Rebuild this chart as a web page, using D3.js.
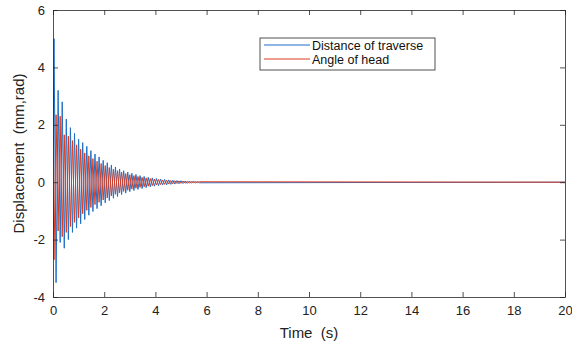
<!DOCTYPE html>
<html>
<head>
<meta charset="utf-8">
<script src="https://cdn.jsdelivr.net/npm/d3@7"></script>
<style>
  body { margin: 0; background: #fff; }
  svg { font-family: "Liberation Sans", Arial, sans-serif; }
</style>
</head>
<body>
<svg id="chart" width="572" height="352"></svg>
<script>
// extrema times (s)
const peakTimes = [0.04, 0.20, 0.36, 0.52, 0.68, 0.84, 1.00, 1.16, 1.32, 1.48, 1.64, 1.80,
  1.96, 2.12, 2.28, 2.44, 2.60, 2.76, 2.92, 3.08, 3.24, 3.40, 3.56, 3.72,
  3.88, 4.04, 4.20, 4.36, 4.52, 4.68, 4.84, 5.00, 5.16, 5.32, 5.48, 5.64];
const troughTimes = [0.12, 0.28, 0.44, 0.60, 0.76, 0.92, 1.08, 1.24, 1.40, 1.56, 1.72, 1.88,
  2.04, 2.20, 2.36, 2.52, 2.68, 2.84, 3.00, 3.16, 3.32, 3.48, 3.64, 3.80,
  3.96, 4.12, 4.28, 4.44, 4.60, 4.76, 4.92, 5.08, 5.24, 5.40, 5.56, 5.72];

// Distance of traverse
const traverseUp = [5.0, 3.2, 2.8, 2.2, 1.9, 1.7, 1.5, 1.38, 1.25, 1.1, 0.98, 0.88,
  0.76, 0.68, 0.6, 0.53, 0.46, 0.4, 0.35, 0.31, 0.27, 0.23, 0.2, 0.17,
  0.15, 0.13, 0.11, 0.095, 0.08, 0.07, 0.06, 0.05, 0.04, 0.035, 0.03, 0.02];
const traverseDown = [-3.5, -2.1, -2.3, -2.0, -1.75, -1.6, -1.45, -1.3, -1.15, -1.02, -0.92, -0.82,
  -0.72, -0.64, -0.56, -0.5, -0.43, -0.38, -0.33, -0.29, -0.25, -0.22, -0.19, -0.16,
  -0.14, -0.12, -0.1, -0.09, -0.075, -0.065, -0.055, -0.045, -0.04, -0.03, -0.025, -0.02];

// Angle of head (starts downward)
const headDown = [-2.7, -1.7, -1.9, -1.75, -1.55, -1.4, -1.25, -1.1, -0.98, -0.88, -0.78, -0.7,
  -0.62, -0.55, -0.48, -0.42, -0.37, -0.32, -0.28, -0.24, -0.21, -0.18, -0.16, -0.14,
  -0.12, -0.1, -0.085, -0.075, -0.065, -0.055, -0.045, -0.04, -0.035, -0.03, -0.02, -0.015];
const headUp = [2.35, 2.3, 1.65, 1.6, 1.45, 1.3, 1.15, 1.02, 0.92, 0.82, 0.73, 0.65,
  0.58, 0.51, 0.45, 0.4, 0.35, 0.3, 0.26, 0.23, 0.2, 0.17, 0.15, 0.13,
  0.11, 0.095, 0.08, 0.07, 0.06, 0.05, 0.045, 0.04, 0.03, 0.025, 0.02, 0.015];

const xTicks = [0, 2, 4, 6, 8, 10, 12, 14, 16, 18, 20];
const yTicks = [-4, -2, 0, 2, 4, 6];
const seriesNames = ['Distance of traverse', 'Angle of head'];
const colors = ['#1f6fc8', '#dc3a1e'];

const svg = d3.select('#chart');
const pLeft = 53, pRight = 565, pTop = 10, pBottom = 297;

const x = d3.scaleLinear().domain([0, 20]).range([pLeft, pRight]);
const y = d3.scaleLinear().domain([-4, 6]).range([pBottom, pTop]);

// build the two polylines from the extrema
function buildSeries(upTimes, upVals, downTimes, downVals) {
  const pts = [[0, 0]];
  upTimes.forEach((t, i) => pts.push([t, upVals[i]]));
  downTimes.forEach((t, i) => pts.push([t, downVals[i]]));
  pts.sort((a, b) => a[0] - b[0]);
  pts.push([20, 0]);
  return pts;
}
const traverse = buildSeries(peakTimes, traverseUp, troughTimes, traverseDown);
const head = buildSeries(troughTimes, headUp, peakTimes, headDown);

const line = d3.line().x(d => x(d[0])).y(d => y(d[1]));

svg.append('defs').append('clipPath').attr('id', 'clip')
  .append('rect').attr('x', pLeft).attr('y', pTop).attr('width', pRight - pLeft).attr('height', pBottom - pTop);

const plot = svg.append('g').attr('clip-path', 'url(#clip)');
plot.append('path').datum(traverse)
  .attr('fill', 'none').attr('stroke', colors[0]).attr('stroke-width', 1)
  .attr('d', line);
plot.append('path').datum(head)
  .attr('fill', 'none').attr('stroke', colors[1]).attr('stroke-width', 1)
  .attr('d', line);

// axes (MATLAB style box, inward ticks)
const axisColor = '#262626';
const xAxis = svg.append('g')
  .attr('transform', `translate(0,${pBottom})`)
  .call(d3.axisBottom(x).tickValues(xTicks).tickSizeInner(-5).tickSizeOuter(0).tickPadding(9));
const yAxis = svg.append('g')
  .attr('transform', `translate(${pLeft},0)`)
  .call(d3.axisLeft(y).tickValues(yTicks).tickSizeInner(-5).tickSizeOuter(0).tickPadding(8));
const xTop = svg.append('g')
  .attr('transform', `translate(0,${pTop})`)
  .call(d3.axisTop(x).tickValues(xTicks).tickSizeInner(-5).tickSizeOuter(0).tickFormat(''));
const yRight = svg.append('g')
  .attr('transform', `translate(${pRight},0)`)
  .call(d3.axisRight(y).tickValues(yTicks).tickSizeInner(-5).tickSizeOuter(0).tickFormat(''));

[xAxis, yAxis, xTop, yRight].forEach(g => {
  g.select('.domain').attr('stroke', axisColor).attr('stroke-width', 0.8);
  g.selectAll('.tick line').attr('stroke', axisColor).attr('stroke-width', 0.8);
  g.selectAll('.tick text').attr('fill', '#222').style('font-size', '13px')
    .style('font-family', '"Liberation Sans", Arial, sans-serif');
});
yAxis.selectAll('.tick text').text(d => d < 0 ? '-' + Math.abs(d) : d);

// axis titles
svg.append('text')
  .attr('x', (pLeft + pRight) / 2).attr('y', 338)
  .attr('text-anchor', 'middle').attr('fill', '#222').style('font-size', '15px')
  .style('white-space', 'pre')
  .text('Time  (s)');
svg.append('text')
  .attr('transform', `translate(24,${(pTop + pBottom) / 2}) rotate(-90)`)
  .attr('text-anchor', 'middle').attr('fill', '#222').style('font-size', '15px')
  .style('white-space', 'pre')
  .text('Displacement  (mm,rad)');

// legend
const legend = svg.append('g').attr('transform', 'translate(260,38)');
legend.append('rect').attr('width', 175).attr('height', 32)
  .attr('fill', '#fff').attr('stroke', axisColor).attr('stroke-width', 0.8);
seriesNames.forEach((name, i) => {
  const row = legend.append('g').attr('transform', `translate(0,${7 + i * 14})`);
  row.append('line').attr('x1', 4).attr('x2', 50).attr('y1', 0).attr('y2', 0)
    .attr('stroke', colors[i]).attr('stroke-width', 1);
  row.append('text').attr('x', 52).attr('y', 5).attr('fill', '#111')
    .style('font-size', '12.5px').text(name);
});
</script>
</body>
</html>
